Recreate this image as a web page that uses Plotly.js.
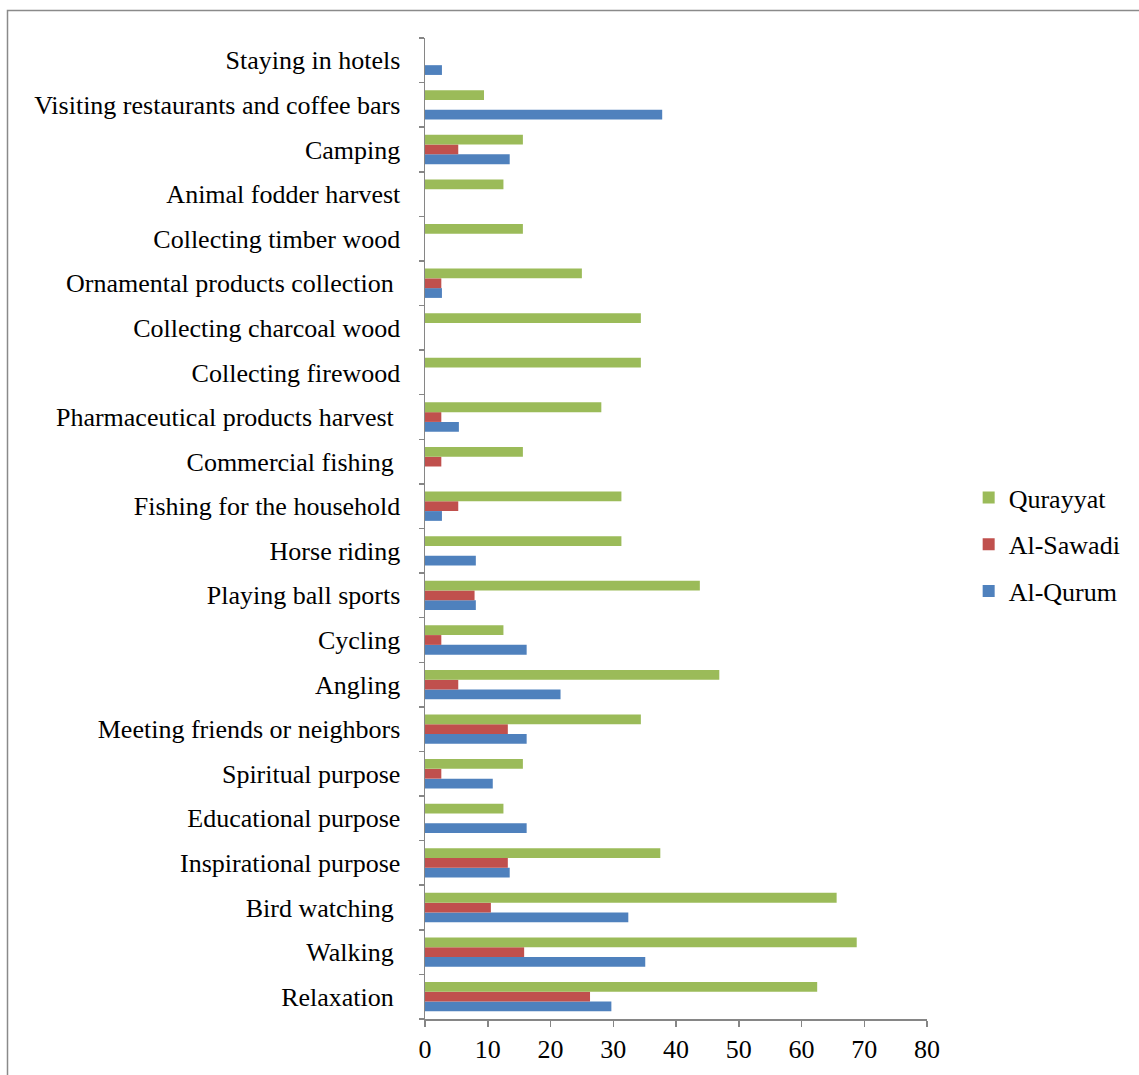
<!DOCTYPE html>
<html>
<head>
<meta charset="utf-8">
<script src="https://cdn.plot.ly/plotly-3.0.1.min.js"></script>
<style>html,body{margin:0;padding:0;background:#fff;}#chart{width:1139px;height:1075px;}</style>
</head>
<body>
<div id="chart"></div>
<script>
const categories = [
  "Relaxation\u00a0", "Walking\u00a0", "Bird watching\u00a0", "Inspirational purpose",
  "Educational purpose", "Spiritual purpose", "Meeting friends or neighbors", "Angling",
  "Cycling", "Playing ball sports", "Horse riding", "Fishing for the household",
  "Commercial fishing\u00a0", "Pharmaceutical products harvest\u00a0", "Collecting firewood",
  "Collecting charcoal wood", "Ornamental products collection\u00a0", "Collecting timber wood",
  "Animal fodder harvest", "Camping", "Visiting restaurants and coffee bars", "Staying in hotels"
];
const qurayyat = [62.5, 68.8, 65.6, 37.5, 12.5, 15.6, 34.4, 46.9, 12.5, 43.8, 31.3, 31.3, 15.6, 28.1, 34.4, 34.4, 25.0, 15.6, 12.5, 15.6, 9.4, 0];
const alSawadi = [26.3, 15.8, 10.5, 13.2, 0, 2.6, 13.2, 5.3, 2.6, 7.9, 0, 5.3, 2.6, 2.6, 0, 0, 2.6, 0, 0, 5.3, 0, 0];
const alQurum  = [29.7, 35.1, 32.4, 13.5, 16.2, 10.8, 16.2, 21.6, 16.2, 8.1, 8.1, 2.7, 0, 5.4, 0, 0, 2.7, 0, 0, 13.5, 37.8, 2.7];
const xTicks = [0, 10, 20, 30, 40, 50, 60, 70, 80];

const font = {family: "Liberation Serif, Times New Roman, serif", size: 26, color: "#000"};

function tr(name, vals, color, grp, rank) {
  return {type: "bar", orientation: "h", name: name, x: vals, y: categories,
          legendgroup: grp, legendrank: rank,
          marker: {color: color, line: {width: 0}}, hoverinfo: "x+y"};
}
const data = [
  tr("Al-Qurum", alQurum, "#4F81BD", "c", 3),
  tr("Al-Sawadi", alSawadi, "#C0504D", "b", 2),
  tr("Qurayyat", qurayyat, "#9BBB59", "a", 1)
];

const layout = {
  width: 1139, height: 1075,
  margin: {l: 425, r: 212, t: 38, b: 56, pad: 0},
  paper_bgcolor: "#fff", plot_bgcolor: "#fff",
  font: font,
  barmode: "group", bargap: 0.343, bargroupgap: 0,
  showlegend: true,
  legend: {x: 1.083, xanchor: "left", y: 0.4837, yanchor: "middle",
           traceorder: "grouped", tracegroupgap: 10,
           font: font, bgcolor: "rgba(0,0,0,0)"},
  xaxis: {range: [0, 80], tickvals: xTicks, ticktext: xTicks.map(String),
          showgrid: false, zeroline: false, showline: true, linecolor: "#868686", linewidth: 1.5,
          ticks: "outside", ticklen: 6, tickcolor: "#868686", tickwidth: 1.5,
          tickfont: font, fixedrange: true},
  yaxis: {type: "category", showgrid: false, zeroline: false, showline: true,
          linecolor: "#868686", linewidth: 1.5, ticks: "outside", tickson: "boundaries",
          ticklen: 5, tickcolor: "#868686", tickwidth: 1.5, tickfont: font,
          ticklabelstandoff: 18, fixedrange: true},
  shapes: [{type: "rect", xref: "paper", yref: "paper",
            x0: (7.5 - 425) / 502, x1: 1.6, y0: -0.2, y1: 1 + (38 - 10.5) / 981,
            line: {color: "#8a8a8a", width: 1.5}, fillcolor: "rgba(0,0,0,0)", layer: "below"}]
};

Plotly.newPlot("chart", data, layout, {displayModeBar: false, staticPlot: true});
</script>
</body>
</html>
